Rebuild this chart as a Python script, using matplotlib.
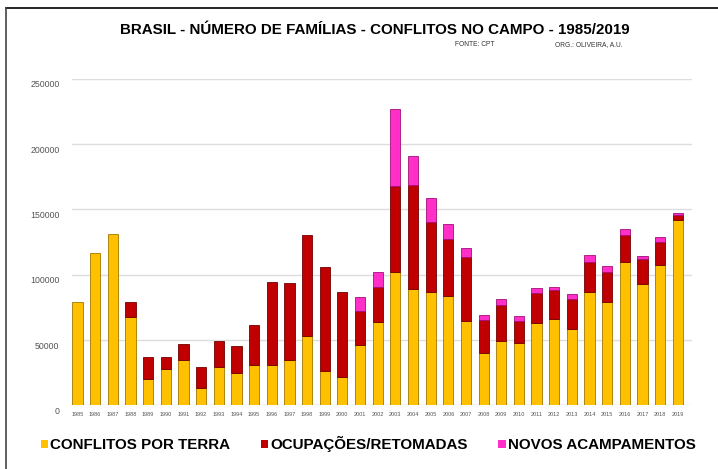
import numpy as np
import matplotlib
matplotlib.use("Agg")
import matplotlib.pyplot as plt
import matplotlib.transforms as mtransforms
from matplotlib.lines import Line2D

plt.rcParams['font.family'] = ['Liberation Sans', 'DejaVu Sans']

# dados (leitura aproximada do grafico original)
anos = list(range(1985, 2020))
conflitos_terra = [79300, 116800, 131100, 67900, 20400, 27500, 34400, 13300, 29100, 24700,
                   30600, 30600, 34400, 53300, 26500, 21900, 45900, 64000, 102300, 89000,
                   86500, 83400, 64500, 40300, 49500, 48000, 63300, 66300, 58200, 86700,
                   79300, 110000, 92600, 107400, 141800]
ocupacoes = [0, 0, 0, 11200, 16600, 9500, 12800, 16000, 19900, 21000,
             31100, 64000, 59500, 77100, 79100, 65100, 26000, 26800, 65600, 79600,
             54100, 43900, 49000, 25300, 27000, 16300, 22900, 22000, 23400, 23000,
             22500, 20600, 19600, 17900, 3600]
acampamentos = [0, 0, 0, 0, 0, 0, 0, 0, 0, 0,
                0, 0, 0, 0, 0, 0, 11000, 11200, 58900, 22200,
                17800, 11200, 7200, 3300, 4900, 4100, 3600, 2000, 3900, 5100,
                4800, 4100, 2100, 3800, 1500]

cores = ['#FFC000', '#C00000', '#FF2FC8']
bordas = ['#A07800', '#700000', '#A0107C']

fig = plt.figure(figsize=(7.18, 4.69), dpi=100)
ax = fig.add_axes([0.1003, 0.1358, 0.8635, 0.6962])

x = np.arange(len(anos))
w = 0.58
base2 = np.array(conflitos_terra)
base3 = base2 + np.array(ocupacoes)
series = [(conflitos_terra, 0, 'CONFLITOS POR TERRA'),
          (ocupacoes, base2, 'OCUPAÇÕES/RETOMADAS'),
          (acampamentos, base3, 'NOVOS ACAMPAMENTOS')]
for i, (vals, base, nome) in enumerate(series):
    b = ax.bar(x, vals, w, bottom=base, color=cores[i], edgecolor=bordas[i], linewidth=0.6,
               label=nome, zorder=3)
    for p, v in zip(b.patches, vals):
        if v == 0:
            p.set_visible(False)

ax.set_xlim(-0.31, 34.8)
ax.set_ylim(0, 250000)
ax.set_yticks(np.arange(0, 250001, 50000))
ax.set_xticks(x)
ax.set_xticklabels([str(a) for a in anos])
ax.grid(axis='y', color='#DDDDDD', linewidth=1.0, zorder=0)
for s in ax.spines.values():
    s.set_visible(False)
ax.tick_params(axis='both', length=0)
ax.tick_params(axis='y', labelsize=6.3, labelcolor='#555555', pad=9)
ax.tick_params(axis='x', labelsize=4.0, labelcolor='#555555', pad=5)

# rotulos do eixo y ligeiramente abaixo das linhas (efeito 3D)
off = mtransforms.ScaledTranslation(0, -5 / 100, fig.dpi_scale_trans)
for lb in ax.get_yticklabels():
    lb.set_transform(lb.get_transform() + off)

fig.text(0.5225, 0.936, 'BRASIL - NÚMERO DE FAMÍLIAS - CONFLITOS NO CAMPO - 1985/2019',
         ha='center', va='center', fontsize=10.9, fontweight='bold')
fig.text(0.634, 0.905, 'FONTE: CPT', ha='left', va='center', fontsize=4.8, color='#333333')
fig.text(0.773, 0.905, 'ORG.: OLIVEIRA, A.U.', ha='left', va='center', fontsize=4.8, color='#333333')

handles = []
for c, nome in zip(cores, [s[2] for s in series]):
    handles.append(plt.Rectangle((0, 0), 1, 1, facecolor=c, edgecolor='none', label=nome))
fig.legend(handles=handles, loc='center', bbox_to_anchor=(0.513, 0.053), ncol=3,
           frameon=False, handlelength=0.5, handleheight=0.5, handletextpad=0.15,
           columnspacing=2.0, prop={'weight': 'bold', 'size': 10.9})

# moldura (topo e esquerda)
fig.add_artist(Line2D([0.009, 1.0], [0.983, 0.983], color='black', linewidth=1.2))
fig.add_artist(Line2D([0.009, 0.009], [0.0, 0.983], color='#444444', linewidth=1.2))

fig.savefig('out.png', dpi=100)
